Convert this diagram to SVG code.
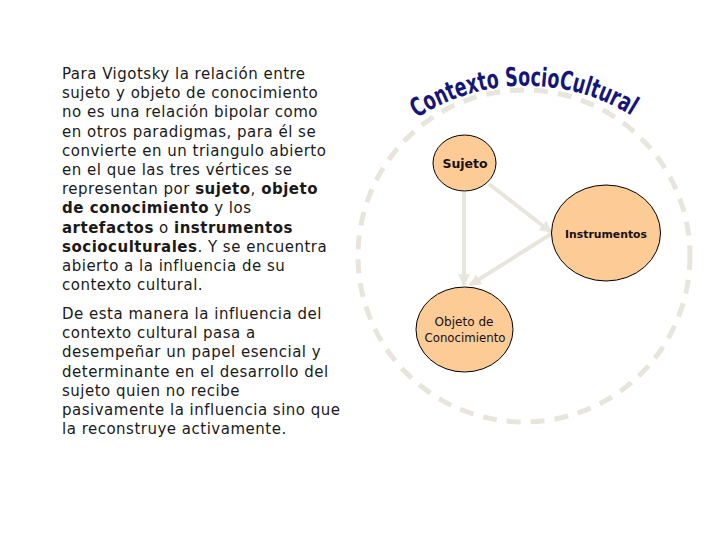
<svg xmlns="http://www.w3.org/2000/svg" width="720" height="540" viewBox="0 0 720 540">
<style>
.para{font-family:"DejaVu Sans",Verdana,sans-serif;font-size:15px;fill:#1a1a1a;letter-spacing:0.5px}
.b{font-weight:bold}
.node{fill:#fccb96;stroke:#000;stroke-width:1}
.lbl{font-family:"DejaVu Sans",Tahoma,sans-serif;fill:#1a1010;text-anchor:middle}
.conn{stroke:#e8e6dc;stroke-width:4;fill:none;marker-end:url(#ah)}
.title{font-family:"DejaVu Sans Condensed","DejaVu Sans",Verdana,sans-serif;font-stretch:condensed;font-weight:bold;font-size:26px;fill:#16167a}
</style>
<defs>
<marker id="ah" viewBox="0 0 10 10" refX="9" refY="5" markerWidth="3" markerHeight="3" orient="auto" markerUnits="strokeWidth">
<path d="M0,0 L10,5 L0,10 z" fill="#e8e6dc"/>
</marker>
<path id="arc" d="M417,118 A200,200 0 0 1 635,118"/>
</defs>
<rect width="720" height="540" fill="#fff"/>
<g id="text-left" class="para">
<text x="62" y="79">Para Vigotsky la relación entre</text>
<text x="62" y="98.2">sujeto y objeto de conocimiento</text>
<text x="62" y="117.4">no es una relación bipolar como</text>
<text x="62" y="136.6">en otros paradigmas, para él se</text>
<text x="62" y="155.8">convierte en un triangulo abierto</text>
<text x="62" y="175">en el que las tres vértices se</text>
<text x="62" y="194.2">representan por <tspan class="b">sujeto</tspan>, <tspan class="b">objeto</tspan></text>
<text x="62" y="213.4"><tspan class="b">de conocimiento</tspan> y los</text>
<text x="62" y="232.6"><tspan class="b">artefactos</tspan> o <tspan class="b">instrumentos</tspan></text>
<text x="62" y="251.8"><tspan class="b">socioculturales</tspan>. Y se encuentra</text>
<text x="62" y="271">abierto a la influencia de su</text>
<text x="62" y="290.2">contexto cultural.</text>
<text x="62" y="319">De esta manera la influencia del</text>
<text x="62" y="338.2">contexto cultural pasa a</text>
<text x="62" y="357.4">desempeñar un papel esencial y</text>
<text x="62" y="376.6">determinante en el desarrollo del</text>
<text x="62" y="395.8">sujeto quien no recibe</text>
<text x="62" y="415">pasivamente la influencia sino que</text>
<text x="62" y="434.2">la reconstruye activamente.</text>
</g>
<g id="context">
<circle cx="524" cy="256" r="166" fill="none" stroke="#e8e6dc" stroke-width="5" stroke-dasharray="14 10"/>
<text class="title"><textPath href="#arc" textLength="226" lengthAdjust="spacingAndGlyphs">Contexto SocioCultural</textPath></text>
</g>
<g id="connectors">
<line class="conn" x1="464" y1="192" x2="464" y2="285"/>
<line class="conn" x1="489" y1="184" x2="551" y2="232"/>
<line class="conn" x1="551" y1="234" x2="470" y2="285"/>
</g>
<g id="sujeto">
<ellipse class="node" cx="464.5" cy="163" rx="31.5" ry="28"/>
<text class="lbl" x="465" y="167.5" font-size="12.5" font-weight="bold">Sujeto</text>
</g>
<g id="instrumentos">
<ellipse class="node" cx="606" cy="233" rx="54.5" ry="48"/>
<text class="lbl" x="606" y="237.5" font-size="11" font-weight="bold" textLength="82" lengthAdjust="spacingAndGlyphs">Instrumentos</text>
</g>
<g id="objeto">
<ellipse class="node" cx="464.5" cy="329.5" rx="48.5" ry="42.5"/>
<text class="lbl" x="464" y="326" font-size="11.5" textLength="59" lengthAdjust="spacingAndGlyphs">Objeto de</text>
<text class="lbl" x="465" y="342" font-size="11.5" textLength="81" lengthAdjust="spacingAndGlyphs">Conocimiento</text>
</g>
</svg>
